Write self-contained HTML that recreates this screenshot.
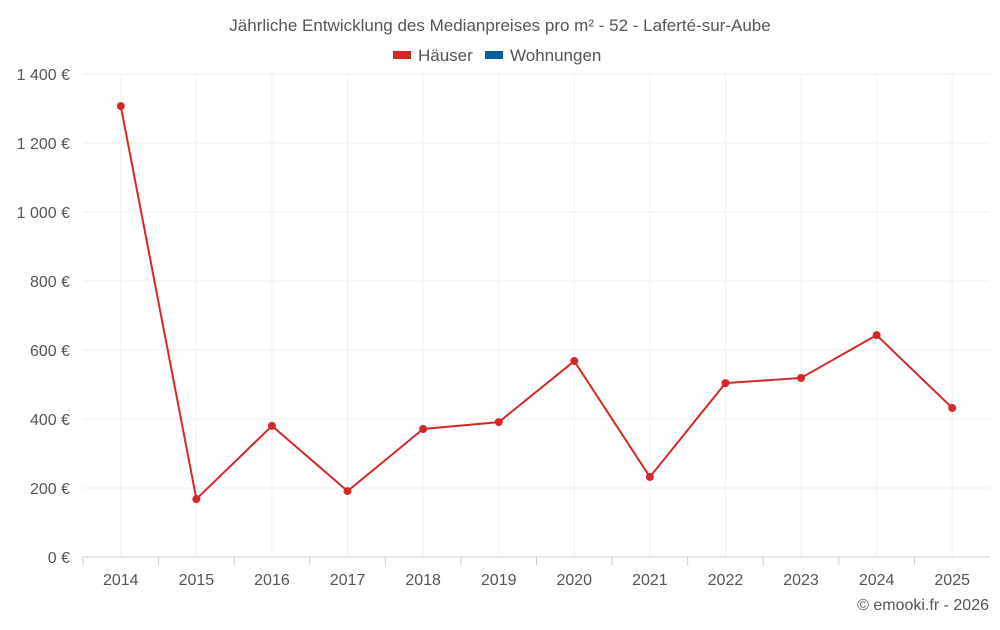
<!DOCTYPE html>
<html><head><meta charset="utf-8"><style>
body{margin:0;background:#fff;font-family:"Liberation Sans",sans-serif;}
svg text{font-family:"Liberation Sans",sans-serif;}
</style></head><body>
<svg id="chart" width="1000" height="625">
<text x="500" y="31" text-anchor="middle" font-size="17" fill="#555">Jährliche Entwicklung des Medianpreises pro m² - 52 - Laferté-sur-Aube</text>
<g>
<g><rect x="393" y="51" width="18" height="8" fill="#d62728"/><text x="418" y="61" font-size="17" fill="#555">Häuser</text></g>
<g><rect x="485" y="51" width="18" height="8" fill="#0a5e9a"/><text x="510" y="61" font-size="17" fill="#555">Wohnungen</text></g>
</g>
<g id="grid"></g><g id="axes"></g><g id="series"></g>
<text x="989" y="610" text-anchor="end" font-size="16" fill="#555">© emooki.fr - 2026</text>
</svg>
<script>
const years=["2014","2015","2016","2017","2018","2019","2020","2021","2022","2023","2024","2025"];
const houses=[1307,168,380,191,371,391,568,232,504,519,643,432];
const yTicks=[0,200,400,600,800,1000,1200,1400];
const yLabels=["0 €","200 €","400 €","600 €","800 €","1 000 €","1 200 €","1 400 €"];
const NS="http://www.w3.org/2000/svg";
const L=83,R=990,T=74,B=557,ymax=1400;
const bw=(R-L)/years.length;
const xs=i=>L+bw*(i+0.5);
const ys=v=>B-(v/ymax)*(B-T);
function mk(t,a,p){const e=document.createElementNS(NS,t);for(const k in a)e.setAttribute(k,a[k]);p.appendChild(e);return e;}
const g=document.getElementById('grid'),ax=document.getElementById('axes'),s=document.getElementById('series');
yTicks.forEach((v,i)=>{
 const l=mk('line',{x1:L,x2:R,y1:ys(v),y2:ys(v),stroke:i==0?'#ccc':'#ececec'},g);
 
 
 const t=mk('text',{x:70,y:ys(v)+6,'text-anchor':'end','font-size':16,fill:'#555'},ax);
 t.textContent=yLabels[i];
 
 
});
years.forEach((y,i)=>{
 const l=mk('line',{x1:xs(i),x2:xs(i),y1:T,y2:B,stroke:'#f0f0f0'},g);
 
 
 const tk=mk('line',{x1:L+bw*i,x2:L+bw*i,y1:B,y2:B+8,stroke:'#ccc'},ax);
 
 
 const t=mk('text',{x:xs(i),y:585,'text-anchor':'middle','font-size':16,fill:'#555'},ax);
 t.textContent=y;
 
 
});
const p=mk('polyline',{points:houses.map((v,i)=>xs(i)+','+ys(v)).join(' '),fill:'none',stroke:'#d62728','stroke-width':2},s);


houses.forEach((v,i)=>{
 const c=mk('circle',{cx:xs(i),cy:ys(v),r:4,fill:'#d62728'},s);
 
 
});
</script>
</body></html>
